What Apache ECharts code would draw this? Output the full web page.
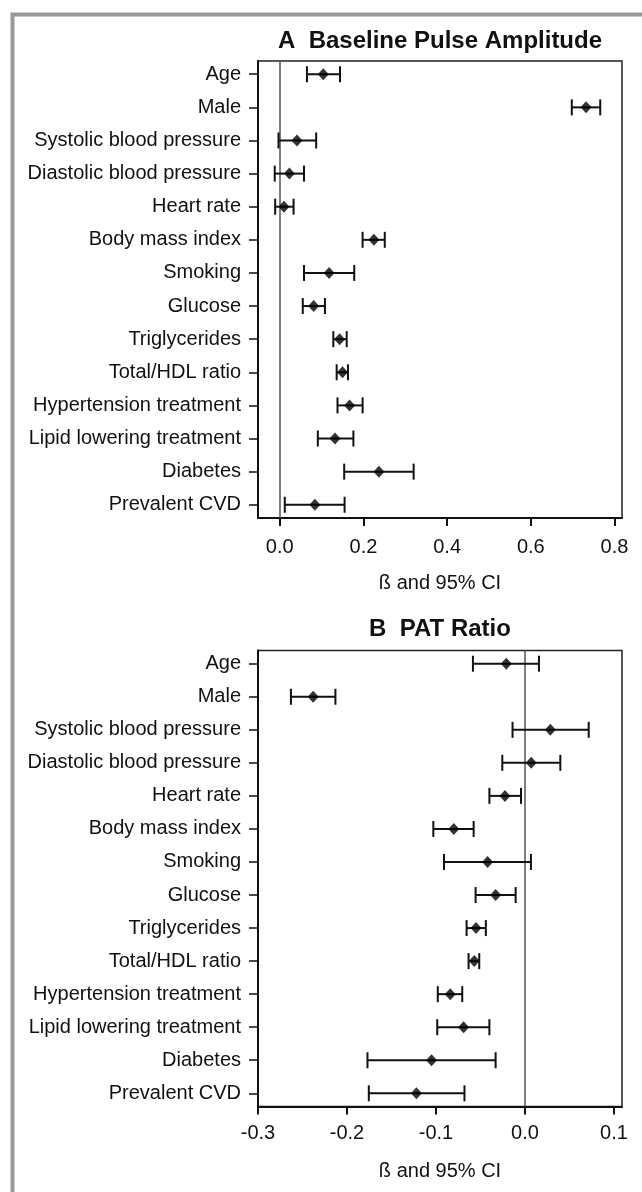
<!DOCTYPE html>
<html>
<head>
<meta charset="utf-8">
<script src="https://cdn.jsdelivr.net/npm/echarts@6/dist/echarts.min.js"></script>
<style>
html,body{margin:0;padding:0;background:#fff;}
#chart{width:642px;height:1192px;}
</style>
</head>
<body>
<div id="chart"></div>
<script>
const categories = ['Age','Male','Systolic blood pressure','Diastolic blood pressure','Heart rate','Body mass index','Smoking','Glucose','Triglycerides','Total/HDL ratio','Hypertension treatment','Lipid lowering treatment','Diabetes','Prevalent CVD'];

const pulseEst  = [0.104, 0.732, 0.041, 0.023, 0.010, 0.225, 0.118, 0.081, 0.143, 0.150, 0.167, 0.132, 0.237, 0.084];
const pulseLow  = [0.065, 0.698, -0.003, -0.012, -0.011, 0.198, 0.058, 0.055, 0.128, 0.136, 0.138, 0.091, 0.154, 0.012];
const pulseHigh = [0.144, 0.766, 0.087, 0.058, 0.033, 0.251, 0.178, 0.108, 0.160, 0.163, 0.198, 0.176, 0.320, 0.155];

const patEst  = [-0.021, -0.238, 0.0285, 0.007, -0.0225, -0.080, -0.042, -0.033, -0.055, -0.057, -0.084, -0.069, -0.105, -0.122];
const patLow  = [-0.0585, -0.263, -0.014, -0.0255, -0.040, -0.103, -0.091, -0.0555, -0.0656, -0.0634, -0.098, -0.0986, -0.177, -0.1755];
const patHigh = [0.0157, -0.213, 0.0716, 0.0397, -0.0045, -0.0577, 0.0067, -0.0105, -0.044, -0.0514, -0.0705, -0.040, -0.033, -0.068];

const pulseTicks = [0, 0.2, 0.4, 0.6, 0.8];
const patTicks = [-0.3, -0.2, -0.1, 0.0, 0.1];

const titleA = 'A  Baseline Pulse Amplitude';
const titleB = 'B  PAT Ratio';
const axisName = 'ß and 95% CI';

const FONT = '"Liberation Sans", Arial, sans-serif';
const TXT = '#111';
const rowIdx = categories.map((c, i) => i);

function xAxisDef(gi, min, max, ticks, margin) {
  return {
    type: 'value', gridIndex: gi, min: min, max: max,
    name: axisName, nameLocation: 'middle', nameGap: 55,
    nameTextStyle: {fontFamily: FONT, fontSize: 20, color: TXT},
    axisLine: {show: true, onZero: false, lineStyle: {color: '#111', width: 2}},
    axisTick: {show: true, customValues: ticks, length: 8, lineStyle: {color: '#111', width: 2}},
    axisLabel: {show: true, customValues: ticks, margin: margin, fontFamily: FONT, fontSize: 20, color: TXT,
      formatter: v => (Math.abs(v) < 1e-9 ? 0 : v).toFixed(1)},
    splitLine: {show: false}
  };
}
function yAxisDef(gi) {
  return {
    type: 'value', gridIndex: gi, inverse: true, min: -0.4, max: 13.4,
    axisLine: {show: true, onZero: false, lineStyle: {color: '#111', width: 2}},
    axisTick: {show: true, customValues: rowIdx, length: 9, lineStyle: {color: '#111', width: 1.5}},
    axisLabel: {show: true, customValues: rowIdx, margin: 17, fontFamily: FONT, fontSize: 20, color: TXT,
      formatter: v => categories[Math.round(v)]},
    splitLine: {show: false}
  };
}
function errSeries(gi, low, high) {
  return {
    type: 'custom', xAxisIndex: gi, yAxisIndex: gi, z: 3,
    data: categories.map((c, i) => [i, low[i], high[i]]),
    encode: {x: [1, 2], y: 0},
    renderItem: function (params, api) {
      const y = api.value(0);
      const a = api.coord([api.value(1), y]);
      const b = api.coord([api.value(2), y]);
      const h = 8;
      const st = {stroke: '#111', lineWidth: 2};
      return {type: 'group', children: [
        {type: 'line', shape: {x1: a[0], y1: a[1], x2: b[0], y2: b[1]}, style: st},
        {type: 'line', shape: {x1: a[0], y1: a[1] - h, x2: a[0], y2: a[1] + h}, style: st},
        {type: 'line', shape: {x1: b[0], y1: b[1] - h, x2: b[0], y2: b[1] + h}, style: st}
      ]};
    }
  };
}
function pointSeries(gi, est) {
  return {
    type: 'scatter', xAxisIndex: gi, yAxisIndex: gi, z: 4,
    symbol: 'diamond', symbolSize: [11, 12],
    itemStyle: {color: '#000'},
    data: categories.map((c, i) => [est[i], i]),
    markLine: {
      silent: true, symbol: ['none', 'none'], z: 2,
      lineStyle: {color: '#555', width: 1.5, type: 'solid'},
      label: {show: false},
      data: [{xAxis: 0}]
    }
  };
}

const chart = echarts.init(document.getElementById('chart'), null, {renderer: 'canvas'});
chart.setOption({
  backgroundColor: '#fff',
  animation: false,
  grid: [
    {left: 258, top: 61, width: 364, height: 457, show: true, borderColor: '#222', borderWidth: 1.5, containLabel: false},
    {left: 258, top: 650.5, width: 364, height: 456, show: true, borderColor: '#222', borderWidth: 1.5, containLabel: false}
  ],
  xAxis: [xAxisDef(0, -0.052, 0.818, pulseTicks, 19), xAxisDef(1, -0.3, 0.109, patTicks, 16.5)],
  yAxis: [yAxisDef(0), yAxisDef(1)],
  series: [errSeries(0, pulseLow, pulseHigh), pointSeries(0, pulseEst), errSeries(1, patLow, patHigh), pointSeries(1, patEst)],
  graphic: [
    {type: 'rect', left: 10, top: 12, shape: {width: 700, height: 1300}, style: {fill: 'none', stroke: '#999', lineWidth: 4}, silent: true},
    {type: 'text', x: 440, y: 41, style: {text: titleA, fontFamily: FONT, fontSize: 24, fontWeight: 'bold', fill: TXT, align: 'center', verticalAlign: 'middle'}},
    {type: 'text', x: 440, y: 629, style: {text: titleB, fontFamily: FONT, fontSize: 24, fontWeight: 'bold', fill: TXT, align: 'center', verticalAlign: 'middle'}}
  ]
});
</script>
</body>
</html>
